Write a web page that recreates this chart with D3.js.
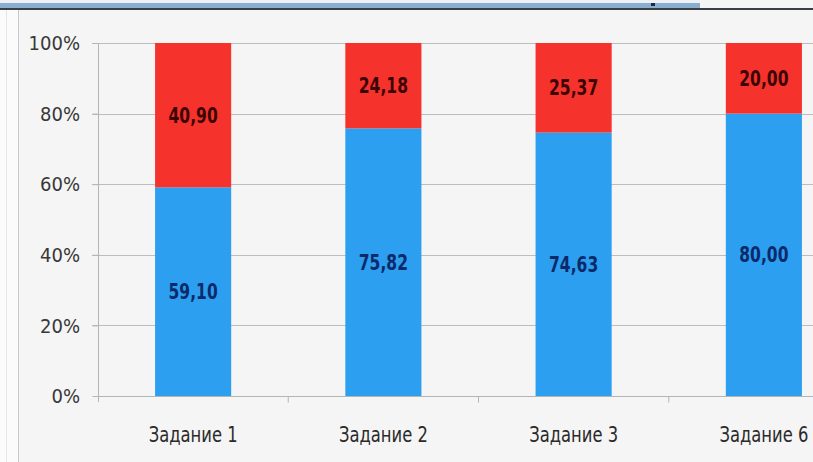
<!DOCTYPE html>
<html>
<head>
<meta charset="utf-8">
<script src="https://cdn.jsdelivr.net/npm/d3@7/dist/d3.min.js"></script>
<style>
  html, body { margin: 0; padding: 0; background: #f6f6f6; }
  svg { display: block; }
  text { font-family: "DejaVu Sans", sans-serif; }
</style>
</head>
<body>
<svg id="chart" width="813" height="462"></svg>
<script>
// Task categories and their shares (percent), stacked to 100%
const categories = ["Задание 1", "Задание 2", "Задание 3", "Задание 6"];
const correct = [59.10, 75.82, 74.63, 80.00];
const wrong = [40.90, 24.18, 25.37, 20.00];
const yTicks = [0, 20, 40, 60, 80, 100];

const fmt = v => v.toFixed(2).replace(".", ",");

const svg = d3.select("#chart");
const W = 813, H = 462;

// window frame decoration
svg.append("rect").attr("x", 0).attr("y", 0).attr("width", W).attr("height", H).attr("fill", "#f5f5f5");
svg.append("rect").attr("x", 0).attr("y", 0).attr("width", 18).attr("height", H).attr("fill", "#fbfbfb");
svg.append("line").attr("x1", 18.5).attr("x2", 18.5).attr("y1", 10).attr("y2", H).attr("stroke", "#c8c8c8").attr("stroke-width", 1);
svg.append("line").attr("x1", 6.5).attr("x2", 6.5).attr("y1", 10).attr("y2", H).attr("stroke", "#e6e6e6").attr("stroke-width", 1);
svg.append("rect").attr("x", 0).attr("y", 0).attr("width", 700).attr("height", 8).attr("fill", "#8aaed0");
svg.append("rect").attr("x", 0).attr("y", 0).attr("width", 700).attr("height", 3).attr("fill", "#eef2f6");
svg.append("rect").attr("x", 0).attr("y", 8).attr("width", W).attr("height", 2).attr("fill", "#3a3f46");
svg.append("rect").attr("x", 651).attr("y", 3).attr("width", 4).attr("height", 3).attr("fill", "#1a2a40");

const x = d3.scaleBand()
  .domain(categories)
  .range([98, 859])
  .paddingInner(0.6)
  .paddingOuter(0.3);

const y = d3.scaleLinear().domain([0, 100]).range([396, 43]);

// narrow text: a horizontally squeezed label anchored at (cx, cy)
function narrowText(parent, cx, cy, sx) {
  return parent.append("g")
    .attr("transform", `translate(${cx},${cy}) scale(${sx},1)`)
    .append("text");
}

// horizontal gridlines
svg.append("g").selectAll("line")
  .data(yTicks.filter(t => t > 0))
  .join("line")
  .attr("x1", 92).attr("x2", W)
  .attr("y1", d => Math.round(y(d)) + 0.5).attr("y2", d => Math.round(y(d)) + 0.5)
  .attr("stroke", "#bdbdbd").attr("stroke-width", 1.2);

// y axis (ticks from d3, labels squeezed)
const yAxis = d3.axisLeft(y)
  .tickValues(yTicks)
  .tickFormat(d => d + "%")
  .tickSize(6);
const gy = svg.append("g").attr("transform", "translate(98.5,0)").call(yAxis);
gy.select(".domain").attr("stroke", "#b5b5b5").attr("d", "M-6,43.5H0V402");
gy.selectAll(".tick line").attr("stroke", "#b5b5b5");
gy.selectAll(".tick text").remove();
yTicks.forEach(t => {
  narrowText(svg, 80, y(t), 0.9)
    .attr("text-anchor", "end")
    .attr("dy", "0.36em")
    .attr("fill", "#383838")
    .attr("font-size", 20)
    .text(t + "%");
});

// x axis
const gx = svg.append("g").attr("transform", "translate(0,396.5)");
gx.append("line").attr("x1", 98).attr("x2", W).attr("y1", 0).attr("y2", 0).attr("stroke", "#b5b5b5").attr("stroke-width", 1.2);
gx.selectAll("line.sep")
  .data(categories.slice(1))
  .join("line").attr("class", "sep")
  .attr("x1", d => x(d) - x.step() * x.paddingInner() / 2)
  .attr("x2", d => x(d) - x.step() * x.paddingInner() / 2)
  .attr("y1", 0).attr("y2", 6)
  .attr("stroke", "#b5b5b5");
categories.forEach(c => {
  narrowText(svg, x(c) + x.bandwidth() / 2, 442, 0.78)
    .attr("text-anchor", "middle")
    .attr("fill", "#2a2a2a")
    .attr("font-size", 21)
    .text(c);
});

// stacked bars
const rows = categories.map((c, i) => ({ cat: c, correct: correct[i], wrong: wrong[i] }));
const stack = d3.stack().keys(["correct", "wrong"])(rows);
const colors = { correct: "#2c9ff0", wrong: "#f5322b" };
const labelColors = { correct: "#0c2a6a", wrong: "#3c0505" };

stack.forEach(layer => {
  const key = layer.key;
  svg.append("g").selectAll("rect")
    .data(layer)
    .join("rect")
    .attr("x", d => x(d.data.cat))
    .attr("width", x.bandwidth())
    .attr("y", d => y(d[1]))
    .attr("height", d => y(d[0]) - y(d[1]))
    .attr("fill", colors[key]);
  layer.forEach(d => {
    narrowText(svg, x(d.data.cat) + x.bandwidth() / 2, y((d[0] + d[1]) / 2), 0.74)
      .attr("dy", "0.36em")
      .attr("text-anchor", "middle")
      .attr("fill", labelColors[key])
      .attr("font-size", 21)
      .attr("font-weight", "bold")
      .text(fmt(d.data[key]));
  });
});
</script>
</body>
</html>
